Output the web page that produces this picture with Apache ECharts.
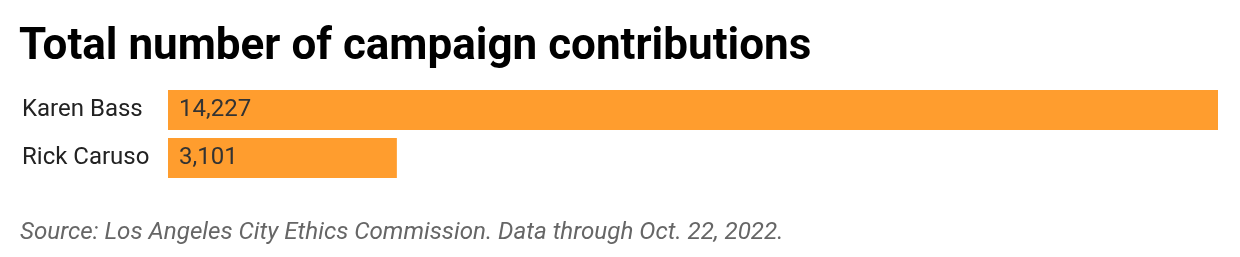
<!DOCTYPE html>
<html>
<head>
<meta charset="utf-8">
<script src="https://cdn.jsdelivr.net/npm/echarts@6/dist/echarts.min.js"></script>
<style>
  html, body { margin: 0; padding: 0; background: #fff; }
  #main { width: 1240px; height: 257px; }
</style>
</head>
<body>
<div id="main"></div>
<script>
// candidates and their contribution counts
const candidates = ['Karen Bass', 'Rick Caruso']
const contributions = [14227, 3101]

const titleText = 'Total number of campaign contributions'
const sourceText = 'Source: Los Angeles City Ethics Commission. Data through Oct. 22, 2022.'

let myChart = echarts.init(document.getElementById('main'))

let option = {
  animation: false,
  title: {
    text: titleText,
    left: 19,
    top: 26,
    padding: 0,
    textStyle: {
      fontFamily: 'Roboto',
      fontWeight: 'bold',
      fontSize: 44,
      color: '#000'
    }
  },
  graphic: [
    {
      type: 'text',
      left: 20,
      top: 221,
      style: {
        text: sourceText,
        fontFamily: 'Roboto',
        fontStyle: 'italic',
        fontSize: 24.2,
        fill: '#666'
      }
    }
  ],
  grid: {
    left: 168,
    width: 1050,
    top: 86,
    height: 96,
    containLabel: false
  },
  xAxis: {
    type: 'value',
    min: 0,
    max: 14227,
    show: false
  },
  yAxis: {
    type: 'category',
    inverse: true,
    data: candidates,
    axisLine: { show: false },
    axisTick: { show: false },
    axisLabel: {
      align: 'left',
      margin: 146,
      padding: [6, 0, 0, 0],
      fontFamily: 'Roboto',
      fontSize: 24,
      color: '#222'
    }
  },
  series: [
    {
      type: 'bar',
      data: contributions,
      barWidth: 40,
      itemStyle: { color: '#FF9D2E' },
      label: {
        show: true,
        position: 'insideLeft',
        distance: 11,
        padding: [6, 0, 0, 0],
        fontFamily: 'Roboto',
        fontSize: 24,
        color: '#333',
        formatter: function (p) {
          return p.value.toLocaleString('en-US')
        }
      }
    }
  ]
}
myChart.setOption(option)
</script>
</body>
</html>
